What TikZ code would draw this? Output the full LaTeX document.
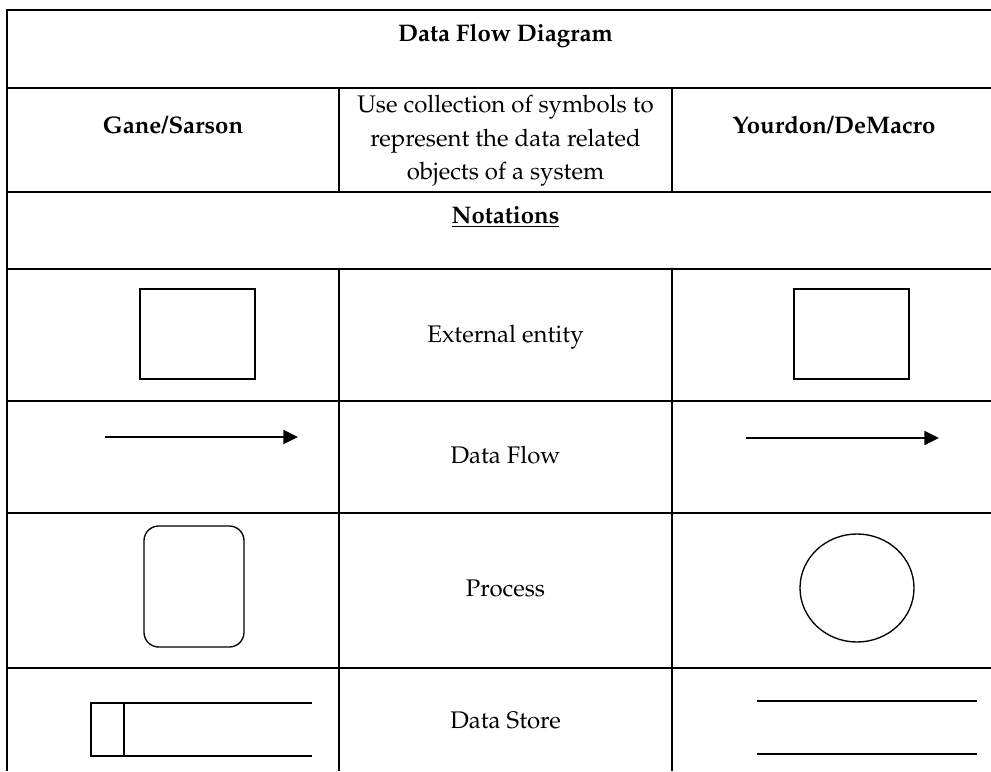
\documentclass[tikz,border=0pt]{standalone}
\usepackage[T1]{fontenc}
\usepackage{mathpazo}
\usetikzlibrary{arrows.meta,shapes.geometric}

\tikzset{every picture/.style={line width=0.75pt}}
\tikzset{
  grid/.style={line width=1.5pt},
  cell/.style={font=\fontsize{18}{25}\selectfont, inner sep=0pt, anchor=base},
  head/.style={cell, font=\fontsize{18}{25}\selectfont\bfseries},
  symb/.style={draw, line width=1pt, inner sep=0pt},
  flow/.style={line width=1.5pt, -{Triangle[length=11pt,width=10.5pt]}},
}

\begin{document}
\begin{tikzpicture}[x=0.75pt,y=0.75pt,yscale=-1,xscale=1]
\useasboundingbox (0,0) rectangle (991,771);

% Table
\draw[grid] (7,771) -- (7,10) -- (991,10) ;
\foreach \yy in {88,192,269,401,513,668}
  \draw[grid] (7,\yy) -- (991,\yy) ;
\foreach \xx in {339,672} {
  \draw[grid] (\xx,88) -- (\xx,192) ;
  \draw[grid] (\xx,269) -- (\xx,771) ;
}

% Text Node
\node[head] (title) at (505.5,41) {Data Flow Diagram};
% Text Node
\node[head] (gane) at (173,133) {Gane/Sarson};
% Text Node
\node[cell, anchor=center, align=center] (use) at (505.5,141) {Use collection of symbols to\\represent the data related\\objects of a system};
% Text Node
\node[head] (yourdon) at (834,133) {Yourdon/DeMacro};
% Text Node
\node[head] (notes) at (505.5,223) {\underline{Notations}};

% Text Node
\node[cell] (entity) at (505.5,342) {External entity};
% Text Node
\node[cell] (flowtxt) at (505.5,463) {Data Flow};
% Text Node
\node[cell] (proc) at (505.5,596) {Process};
% Text Node
\node[cell] (store) at (505.5,728) {Data Store};

% External entity
\node[symb, minimum width=86.25pt, minimum height=67.5pt] (gsEnt) at (197.5,334) {};
\node[symb, minimum width=86.25pt, minimum height=67.5pt] (ydEnt) at (851.5,334) {};

% Data flow
\coordinate (gsA) at (105,437) ;
\coordinate (gsB) at (298,437) ;
\draw[flow] (gsA) -- (gsB) ;
\coordinate (ydA) at (746,438) ;
\coordinate (ydB) at (939,438) ;
\draw[flow] (ydA) -- (ydB) ;

% Process
\node[symb, rounded corners=11pt, minimum width=75pt, minimum height=90.75pt] (gsProc) at (194,586.5) {};
\node[symb, ellipse, minimum width=85.5pt, minimum height=81pt] (ydProc) at (857,588) {};

% Data store
\draw[line width=1pt] (312,703) -- (91,703) -- (91,756) -- (312,756) ;
\draw[line width=1pt] (124,703) -- (124,756) ;
\draw[line width=1pt] (757,701) -- (977,701) ;
\draw[line width=1pt] (757,754) -- (977,754) ;

\end{tikzpicture}
\end{document}
